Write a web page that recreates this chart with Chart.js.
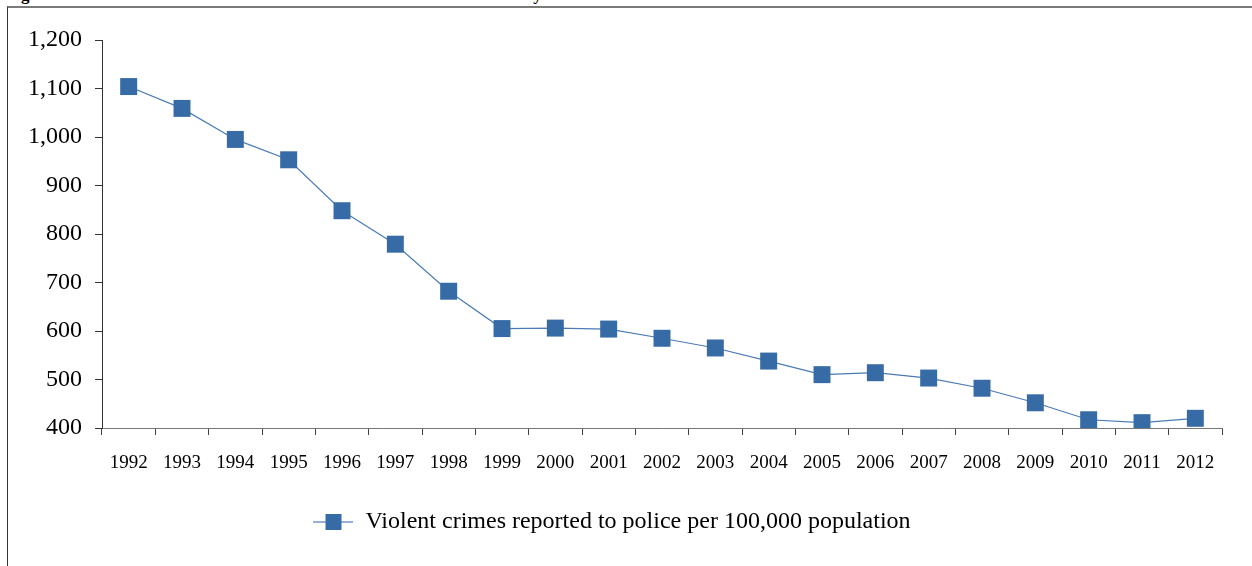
<!DOCTYPE html>
<html>
<head>
<meta charset="utf-8">
<script src="https://cdn.jsdelivr.net/npm/chart.js@4/dist/chart.umd.min.js"></script>
<style>
  html, body { margin: 0; padding: 0; background: #fff; overflow: hidden; }
  #wrap { position: relative; width: 1252px; height: 566px; }
  #title { position: absolute; left: 6px; top: -15px; font: bold 17px "Liberation Serif", "Times New Roman", serif; color: #000; white-space: nowrap; }
  #frame { position: absolute; left: 7px; top: 6px; width: 1245px; height: 560px; border-top: 2px solid #7a7a7a; border-left: 1px solid #333; }
  #chart { position: absolute; left: 0; top: 0; }
</style>
</head>
<body>
<div id="wrap">
  <div id="title">Figure 1: California's violent crime rate in CA has fallen over the last 20 years</div>
  <div id="frame"></div>
  <canvas id="chart" width="1252" height="566"></canvas>
</div>
<script>
// chart data
const years = ['1992','1993','1994','1995','1996','1997','1998','1999','2000','2001','2002',
               '2003','2004','2005','2006','2007','2008','2009','2010','2011','2012'];
const crimeRate = [1104, 1059, 995, 953, 848, 779, 682, 605, 606, 604, 585,
                   565, 538, 510, 514, 503, 482, 452, 417, 411, 420];
const seriesLabel = 'Violent crimes reported to police per 100,000 population';
const yMin = 400, yMax = 1200, yStep = 100;

(function(){
    const blue = '#376ba6';
    const serif = '"Liberation Serif", "Times New Roman", serif';

    // legend swatch: short line with a square marker on it
    const swatch = document.createElement('canvas');
    swatch.width = 40; swatch.height = 18;
    const sc = swatch.getContext('2d');
    sc.strokeStyle = '#6f98c8'; sc.lineWidth = 1.5;
    sc.beginPath(); sc.moveTo(0, 9); sc.lineTo(40, 9); sc.stroke();
    sc.fillStyle = blue; sc.fillRect(12, 1, 16, 16);

    const ctx = document.getElementById('chart');
    new Chart(ctx, {
        type: 'line',
        data: { labels: years, datasets: [{
            label: seriesLabel, data: crimeRate,
            borderColor: '#4a7bb5', borderWidth: 1.2, tension: 0,
            pointStyle: 'rect', pointRadius: 12, pointHoverRadius: 12,
            pointBackgroundColor: blue, pointBorderColor: blue, pointBorderWidth: 0
        }] },
        options: {
            responsive: false, animation: false,
            layout: { padding: { left: 2, right: 30, top: 40, bottom: 22 } },
            plugins: {
                tooltip: { enabled: false },
                legend: {
                    position: 'bottom',
                    labels: {
                        usePointStyle: true, pointStyle: swatch, pointStyleWidth: 40, boxHeight: 18,
                        color: '#000', padding: 10,
                        font: { family: serif, size: 24 }
                    }
                }
            },
            scales: {
                x: {
                    offset: true,
                    grid: { drawOnChartArea: false, drawTicks: true, tickLength: 7, color: '#444', offset: true },
                    border: { color: '#777', width: 1 },
                    ticks: { color: '#000', padding: 17, maxRotation: 0, autoSkip: false, font: { family: serif, size: 19 } },
                    afterFit: s => { s.height = 72; }
                },
                y: {
                    min: yMin, max: yMax,
                    grid: { drawOnChartArea: false, drawTicks: true, tickLength: 7, color: '#333' },
                    border: { color: '#333', width: 1 },
                    ticks: { stepSize: yStep, color: '#000', padding: 13, font: { family: serif, size: 24 },
                             callback: v => v.toLocaleString('en-US') },
                    afterFit: s => { s.width = 100; }
                }
            }
        }
    });
})();
</script>
</body>
</html>
